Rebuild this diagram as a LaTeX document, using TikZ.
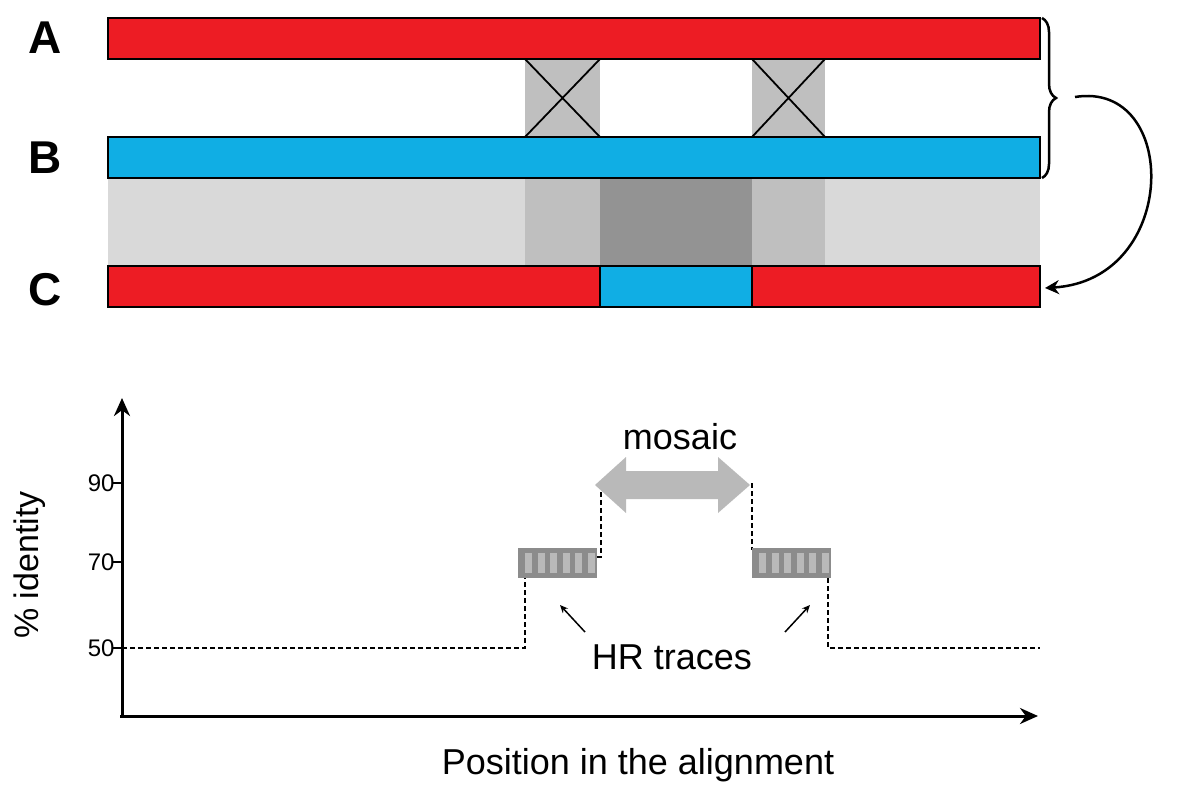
\documentclass[tikz,border=0pt]{standalone}
\usepackage{fontspec}
\setmainfont{Liberation Sans}
\usetikzlibrary{arrows.meta,decorations.pathreplacing}
\definecolor{barred}{RGB}{237,28,36}
\definecolor{barblue}{RGB}{16,174,228}
\tikzset{
	bar/.style={draw=black, line width=2pt},
	prof/.style={dashed, line width=1.5pt, dash pattern=on 5pt off 3pt},
	trace/.style={fill={rgb,255:red,140;green,140;blue,140}, draw=none},
	lbl/.style={font=\fontsize{46}{46}\selectfont\bfseries}
}
\begin{document}
\begin{tikzpicture}[x=1pt,y=-1pt]
	\useasboundingbox (0,0) rectangle (1178,800);
	% Schatten
	\fill[gray!30] (108,178) rectangle (1040,266);
	\fill[gray!50] (525,59) rectangle (600,266);
	\fill[gray!50] (752,59) rectangle (825,266);
	\fill[gray!100!black!85] (600,178) rectangle (752,266);
	\draw[line width=1.8pt] (525,59) -- (600,137) (600,59) -- (525,137);
	\draw[line width=1.8pt] (752,59) -- (825,137) (825,59) -- (752,137);
	% Balken
	\filldraw[bar, fill=barred] (108,18) rectangle (1040,59);
	\filldraw[bar, fill=barblue] (108,137) rectangle (1040,178);
	\filldraw[bar, fill=barred] (108,266) rectangle (600,307);
	\filldraw[bar, fill=barblue] (600,266) rectangle (752,307);
	\filldraw[bar, fill=barred] (752,266) rectangle (1040,307);
	\node[lbl] (la) at (45,38) {A};
	\node[lbl] (lb) at (45,158) {B};
	\node[lbl] (lc) at (45,290) {C};
	% Klammer und Pfeil
	\draw[line width=2.5pt, decorate, decoration={brace, amplitude=14pt}]
		(1042,18) -- (1042,178);
	\coordinate (tip) at (1075,97);
	\coordinate (cend) at (1045,288);
	\draw[line width=2.5pt, -{Stealth[length=14pt,width=14pt]}] (tip)
		.. controls (1180,80) and (1180,280) .. (cend);
	% Achsen
	\draw[line width=3pt, -{Stealth[length=18pt,width=16pt]}] (122,716) -- (122,398);
	\draw[line width=3pt, -{Stealth[length=18pt,width=16pt]}] (120,716) -- (1038,716);
	\foreach \y/\t in {483/90, 562/70, 648/50}
		\node[anchor=east, font=\fontsize{24}{24}\selectfont] at (118,\y) {\t};
	\foreach \y in {483,562,648}
		\draw[line width=1.5pt] (112,\y) -- (122,\y);
	\node[rotate=90, font=\fontsize{34}{34}\selectfont] (ylab) at (30,565) {\% identity};
	\node[font=\fontsize{36}{36}\selectfont] (xlab) at (638,765) {Position in the alignment};
	% Profil
	\draw[prof] (122,648) -- (525,648) -- (525,578);
	\draw[prof] (597,557) -- (601,557) -- (601,490);
	\draw[prof] (752,483) -- (752,550);
	\draw[prof] (828,578) -- (828,648) -- (1040,648);
	\foreach \x in {518,752} {
		\fill[trace] (\x,548) rectangle (\x+79,578);
		\foreach \i in {0,...,5}
			\fill[gray!100!black!55] (\x+7+\i*12.5,553) rectangle (\x+14+\i*12.5,573);
	}
	% Mosaik
	\fill[gray!100!black!55] (595,485) -- (626,457) -- (626,471) -- (718,471) -- (718,457)
		-- (750,485) -- (718,513) -- (718,499) -- (626,499) -- (626,513) -- cycle;
	\node[font=\fontsize{36}{36}\selectfont] (mos) at (680,437) {mosaic};
	\node[font=\fontsize{36}{36}\selectfont] (hr) at (672,657) {HR traces};
	\draw[line width=1.5pt, -{Stealth[length=8pt,width=7pt]}] (585,632) -- (560,605);
	\draw[line width=1.5pt, -{Stealth[length=8pt,width=7pt]}] (785,632) -- (810,605);
\end{tikzpicture}
\end{document}
